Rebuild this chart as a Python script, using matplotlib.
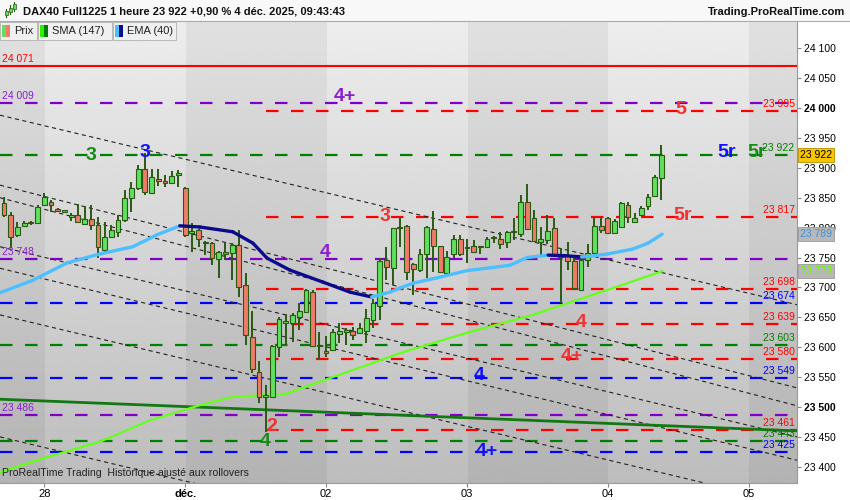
import numpy as np
import matplotlib.pyplot as plt
from matplotlib.patches import Rectangle
from matplotlib.collections import LineCollection
import matplotlib.transforms as mtransforms

plt.rcParams['font.family'] = ['Liberation Sans', 'DejaVu Sans']
plt.rcParams['lines.scale_dashes'] = False

# hourly candles DAX40 Full1225 (27 nov -> 4 dec 2025)
opens = [23841, 23821, 23788, 23803, 23808, 23808, 23838, 23843, 23830, 23829,
         23818, 23821, 23806, 23814, 23804, 23763, 23784, 23793, 23813, 23850,
         23866, 23898, 23858, 23881, 23877, 23875, 23889, 23866, 23791, 23796,
         23774, 23774, 23748, 23759, 23758, 23771, 23704, 23617, 23559, 23517,
         23517, 23600, 23642, 23641, 23651, 23659, 23692, 23604, 23594, 23595,
         23622, 23627, 23627, 23624, 23627, 23646, 23669, 23746, 23732, 23800,
         23803, 23739, 23729, 23756, 23798, 23769, 23724, 23756, 23781, 23768,
         23769, 23769, 23768, 23783, 23781, 23776, 23793, 23789, 23843, 23816,
         23776, 23779, 23799, 23754, 23754, 23744, 23696, 23746, 23758, 23803,
         23816, 23791, 23801, 23838, 23809, 23821, 23836, 23853, 23883]
highs = [23851, 23826, 23809, 23811, 23811, 23838, 23858, 23846, 23832, 23830,
         23824, 23839, 23836, 23838, 23818, 23809, 23804, 23821, 23863, 23876,
         23905, 23925, 23898, 23898, 23888, 23895, 23896, 23868, 23808, 23797,
         23778, 23776, 23761, 23774, 23774, 23796, 23724, 23660, 23577, 23537,
         23604, 23651, 23656, 23657, 23674, 23697, 23696, 23625, 23619, 23630,
         23641, 23632, 23634, 23641, 23664, 23681, 23749, 23768, 23800, 23816,
         23804, 23740, 23764, 23802, 23828, 23770, 23761, 23788, 23788, 23781,
         23779, 23770, 23784, 23786, 23793, 23794, 23816, 23855, 23873, 23829,
         23801, 23821, 23816, 23766, 23776, 23749, 23749, 23773, 23818, 23816,
         23818, 23814, 23843, 23843, 23824, 23836, 23856, 23888, 23938]
lows = [23818, 23766, 23784, 23801, 23805, 23806, 23836, 23826, 23826, 23826,
        23811, 23808, 23804, 23796, 23749, 23759, 23783, 23784, 23809, 23826,
        23863, 23855, 23856, 23870, 23868, 23873, 23868, 23784, 23759, 23768,
        23754, 23737, 23716, 23746, 23712, 23684, 23604, 23557, 23507, 23458,
        23515, 23584, 23604, 23609, 23629, 23657, 23600, 23580, 23584, 23593,
        23607, 23604, 23612, 23622, 23607, 23632, 23646, 23712, 23704, 23768,
        23712, 23687, 23726, 23716, 23726, 23724, 23722, 23749, 23753, 23741,
        23757, 23756, 23767, 23775, 23764, 23766, 23779, 23784, 23797, 23776,
        23751, 23773, 23753, 23674, 23729, 23696, 23694, 23734, 23756, 23791,
        23789, 23789, 23799, 23808, 23808, 23820, 23829, 23851, 23846]
closes = [23821, 23784, 23801, 23808, 23809, 23834, 23851, 23838, 23829, 23827,
          23821, 23809, 23814, 23804, 23768, 23784, 23796, 23813, 23850, 23866,
          23898, 23860, 23885, 23878, 23876, 23886, 23890, 23788, 23794, 23781,
          23776, 23749, 23759, 23756, 23771, 23701, 23620, 23564, 23517, 23520,
          23602, 23647, 23643, 23654, 23661, 23696, 23602, 23602, 23590, 23625,
          23627, 23628, 23620, 23632, 23649, 23674, 23744, 23734, 23799, 23801,
          23726, 23731, 23756, 23801, 23769, 23726, 23751, 23781, 23756, 23766,
          23759, 23768, 23781, 23784, 23773, 23793, 23794, 23843, 23798, 23778,
          23781, 23794, 23754, 23751, 23744, 23699, 23746, 23758, 23803, 23796,
          23791, 23811, 23841, 23818, 23816, 23833, 23851, 23885, 23922]

# EMA(40) (bar index, value)
ema_x = [-0.6, 4.3, 9.4, 14.3, 19.2, 22.8, 26.2, 29.2, 34.1, 37.1, 39.2, 42.6, 47.5,
         51.6, 54.8, 57.5, 59.0, 61.0, 64.5, 69.0, 75.4, 78.0, 81.1, 83.6, 86.1,
         87.3, 90.0, 93.7, 96.0, 98.1]
ema_y = [23691, 23712, 23741, 23756, 23768, 23788, 23803, 23801, 23793, 23774, 23749,
         23729, 23709, 23692, 23684, 23692, 23699, 23707, 23716, 23728, 23737, 23750,
         23754, 23753, 23751, 23752, 23756, 23764, 23774, 23789]

# SMA(147)
sma_x = [-0.6, 6.1, 14.3, 21.8, 29.2, 34.1, 38.9, 42.0, 49.0, 54.1, 59.0, 69.0,
         78.8, 90.8, 98.1]
sma_y = [23391, 23415, 23442, 23478, 23503, 23517, 23520, 23522, 23550, 23570,
         23590, 23624, 23654, 23699, 23727]

# horizontal levels
levels = [24009, 23995, 23922, 23817, 23748, 23698, 23674, 23639, 23603, 23580,
          23549, 23486, 23461, 23443, 23425]
level_kind = ['purple', 'red', 'green', 'red', 'purple', 'red', 'blue', 'red',
              'green', 'red', 'blue', 'purple', 'red', 'green', 'blue']
top_line = 24071

# dashed channel lines and green trendline (value at left edge, at right edge)
channel_left = [23988, 23871, 23850, 23768, 23732, 23654, 23450]
channel_right = [23671, 23532, 23502, 23450, 23411, 23336, 23132]
trend_left, trend_right = 23513, 23460

# wave labels on the levels
wave_txt = ['4+', '5', '3', '3', '5r', '5r', '3', '5r', '4', '4', '4+', '4', '2', '4', '4+']
wave_bar = [50.8, 100.9, 13.0, 21.0, 107.7, 112.2, 56.8, 101.2, 47.8, 86.0, 84.6, 70.9,
            39.9, 39.0, 72.0]
wave_val = [24020, 23998, 23921, 23925, 23925, 23925, 23818, 23821, 23758, 23641,
            23584, 23552, 23467, 23442, 23426]
wave_kind = ['purple', 'red', 'green', 'blue', 'blue', 'green', 'red', 'red', 'purple',
             'red', 'red', 'blue', 'red', 'green', 'blue']

day_ticks = [6, 27, 48, 69, 90, 111]
day_labels = ['28', 'déc.', '02', '03', '04', '05']

line_col = {'red': '#ff0000', 'green': '#008000', 'blue': '#0000ff', 'purple': '#8000c8'}
txt_col = {'red': '#ee3333', 'green': '#158a15', 'blue': '#1010ff', 'purple': '#8a1fd0'}

x_lo, x_hi = -0.6, 118.2
y_lo, y_hi = 23372.9, 24145.5


def fmt(v):
    return '{:,}'.format(v).replace(',', ' ')


fig = plt.figure(figsize=(8.5, 5), dpi=100)
ax = fig.add_axes([0, 1 - 483 / 500, 797 / 850, 462 / 500])
ax.set_xlim(x_lo, x_hi)
ax.set_ylim(y_lo, y_hi)

# background: vertical gradient + alternating day bands
grad = np.linspace(0.93, 0.74, 256).reshape(-1, 1)
ax.imshow(grad, extent=[0, 1, 0, 1], transform=ax.transAxes, cmap='gray',
          vmin=0, vmax=1, aspect='auto', zorder=0)
edges = [x_lo] + [t + 0.1 for t in day_ticks] + [x_hi]
for k in range(len(edges) - 1):
    if k % 2 == 0:
        ax.axvspan(edges[k], edges[k + 1], color='black', alpha=0.05, lw=0, zorder=0.5)

# levels
ax.axhline(top_line, color='#ff0000', lw=1.5, zorder=2)
for v, kind in zip(levels, level_kind):
    x0 = 39 if kind == 'red' else x_lo
    ax.plot([x0, x_hi], [v, v], color=line_col[kind], lw=1.6, dashes=(9, 9), zorder=2)

# channel lines
for a, b in zip(channel_left, channel_right):
    ax.plot([x_lo, x_hi], [a, b], color='#222222', lw=0.8, dashes=(3, 2.5), zorder=3)
ax.plot([x_lo, x_hi], [trend_left, trend_right], color='#127812', lw=2, zorder=3)

# SMA
ax.plot(sma_x, sma_y, color='#66ff1a', lw=1.6, zorder=4)

# candles
n = len(opens)
for i in range(n):
    o, h, l, c = opens[i], highs[i], lows[i], closes[i]
    ax.plot([i, i], [l, h], color='#2a5a12', lw=1.4, zorder=5, solid_capstyle='butt')
    lo_b, hi_b = min(o, c), max(o, c)
    if hi_b - lo_b < 2.5:
        mid = (o + c) / 2
        lo_b, hi_b = mid - 1.25, mid + 1.25
    fc = '#5fe05f' if c >= o else '#f07b6b'
    ax.add_patch(Rectangle((i - 0.36, lo_b), 0.72, hi_b - lo_b, facecolor=fc,
                           edgecolor='#2a5a12', lw=0.8, zorder=6))

# EMA, dark when falling
pts = np.column_stack([ema_x, ema_y])
segs = np.stack([pts[:-1], pts[1:]], axis=1)
cols = ['#4cc0ff' if ema_y[k + 1] >= ema_y[k] else '#0a0a8c' for k in range(len(ema_y) - 1)]
ax.add_collection(LineCollection(segs, colors=cols, lw=2.4, zorder=7, capstyle='round'))

# wave labels
for t, xb, yv, kind in zip(wave_txt, wave_bar, wave_val, wave_kind):
    ax.text(xb, yv, t, color=txt_col[kind], fontsize=14, fontweight='bold',
            ha='center', va='center', zorder=8)

# level value labels
blend = mtransforms.blended_transform_factory(ax.transAxes, ax.transData)
up = mtransforms.offset_copy(blend, fig=fig, y=2, units='dots')
for v, kind in zip(levels, level_kind):
    if kind == 'purple':
        ax.text(0.003, v, fmt(v), transform=up, color=txt_col[kind], fontsize=7.5,
                ha='left', va='bottom', zorder=8)
    else:
        ax.text(0.997, v, fmt(v), transform=up, color=line_col[kind], fontsize=7.5,
                ha='right', va='bottom', zorder=8)
ax.text(0.003, top_line, fmt(top_line), transform=up, color='#ff0000', fontsize=7.5,
        ha='left', va='bottom', zorder=8)

ax.text(0.003, 0.01, 'ProRealTime Trading  Historique ajusté aux rollovers',
        transform=ax.transAxes, fontsize=7.6, color='#222222', ha='left', va='bottom', zorder=8)

# axes / ticks
for s in ['top', 'left']:
    ax.spines[s].set_visible(False)
ax.spines['right'].set_color('#999999')
ax.spines['bottom'].set_color('#999999')
ax.yaxis.tick_right()
yt = list(range(23400, 24101, 50))
ax.set_yticks(yt)
ax.set_yticklabels([fmt(v) for v in yt])
for lab, v in zip(ax.get_yticklabels(), yt):
    if v in (24000, 23500):
        lab.set_fontweight('bold')
        lab.set_fontsize(8.5)
ax.set_xticks(day_ticks)
ax.set_xticklabels(day_labels)
ax.get_xticklabels()[1].set_fontweight('bold')
ax.tick_params(axis='y', labelsize=7.5, length=3, color='#888888', pad=2)
ax.tick_params(axis='x', labelsize=8, length=3, color='#888888', pad=1)

# last value boxes on the price axis
ax.text(1.004, closes[-1], fmt(closes[-1]), transform=blend, fontsize=7.5, color='black',
        ha='left', va='center', zorder=9, clip_on=False,
        bbox=dict(boxstyle='square,pad=0.2', fc='#f7c600', ec='#b09000', lw=0.6))
ax.text(1.004, ema_y[-1], fmt(ema_y[-1]), transform=blend, fontsize=7.5, color='#3a8fe0',
        ha='left', va='center', zorder=9, clip_on=False,
        bbox=dict(boxstyle='square,pad=0.2', fc='#b8b8b8', ec='#999999', lw=0.6))
ax.text(1.004, 23728, fmt(23728), transform=blend, fontsize=7.5, color='#66ff00',
        ha='left', va='center', zorder=9, clip_on=False,
        bbox=dict(boxstyle='square,pad=0.2', fc='#b8b8b8', ec='#999999', lw=0.6))

# header strip
fig.patches.append(Rectangle((0, 1 - 21 / 500), 1, 21 / 500, transform=fig.transFigure,
                             facecolor='#f8f8f8', edgecolor='none', zorder=10))
fig.lines.append(plt.Line2D([0, 1], [1 - 21 / 500] * 2, transform=fig.transFigure,
                            color='#aaaaaa', lw=0.8, zorder=11))
for px, b0, b1, w0, w1 in [(6, 11, 15, 9, 17), (10, 8, 12, 5, 14), (14, 4, 9, 2, 11)]:
    fig.lines.append(plt.Line2D([px / 850] * 2, [1 - w1 / 500, 1 - w0 / 500],
                                transform=fig.transFigure, color='#2a5a12', lw=0.8, zorder=11))
    fig.patches.append(Rectangle(((px - 1.5) / 850, 1 - b1 / 500), 3 / 850, (b1 - b0) / 500,
                                 transform=fig.transFigure, facecolor='#5fe05f',
                                 edgecolor='#2a5a12', lw=0.5, zorder=12))
fig.text(23 / 850, 1 - 12 / 500, 'DAX40 Full1225 1 heure 23 922 +0,90 % 4 déc. 2025, 09:43:43',
         fontsize=8, fontweight='bold', color='#111111', va='center', ha='left', zorder=12)
fig.text(845 / 850, 1 - 12 / 500, 'Trading.ProRealTime.com', fontsize=8, fontweight='bold',
         color='#111111', va='center', ha='right', zorder=12)

# legend boxes
boxes = [(0, 37, 'Prix', '#5fe05f', '#f07b6b'),
         (38, 112, 'SMA (147)', '#33ee00', '#007a00'),
         (113, 176, 'EMA (40)', '#4cc0ff', '#0a0a8c')]
for x0, x1, label, c0, c1 in boxes:
    fig.patches.append(Rectangle((x0 / 850, 1 - 40 / 500), (x1 - x0) / 850, 18 / 500,
                                 transform=fig.transFigure, facecolor='#f0f0f0',
                                 edgecolor='#b0b0b0', lw=0.6, zorder=10))
    fig.patches.append(Rectangle(((x0 + 2) / 850, 1 - 37 / 500), 4 / 850, 12 / 500,
                                 transform=fig.transFigure, facecolor=c0, edgecolor='none', zorder=11))
    fig.patches.append(Rectangle(((x0 + 6) / 850, 1 - 37 / 500), 4 / 850, 12 / 500,
                                 transform=fig.transFigure, facecolor=c1, edgecolor='none', zorder=11))
    fig.text((x0 + 14) / 850, 1 - 31 / 500, label, fontsize=8, color='#222222',
             va='center', ha='left', zorder=12)

fig.savefig('out.png', dpi=100)
